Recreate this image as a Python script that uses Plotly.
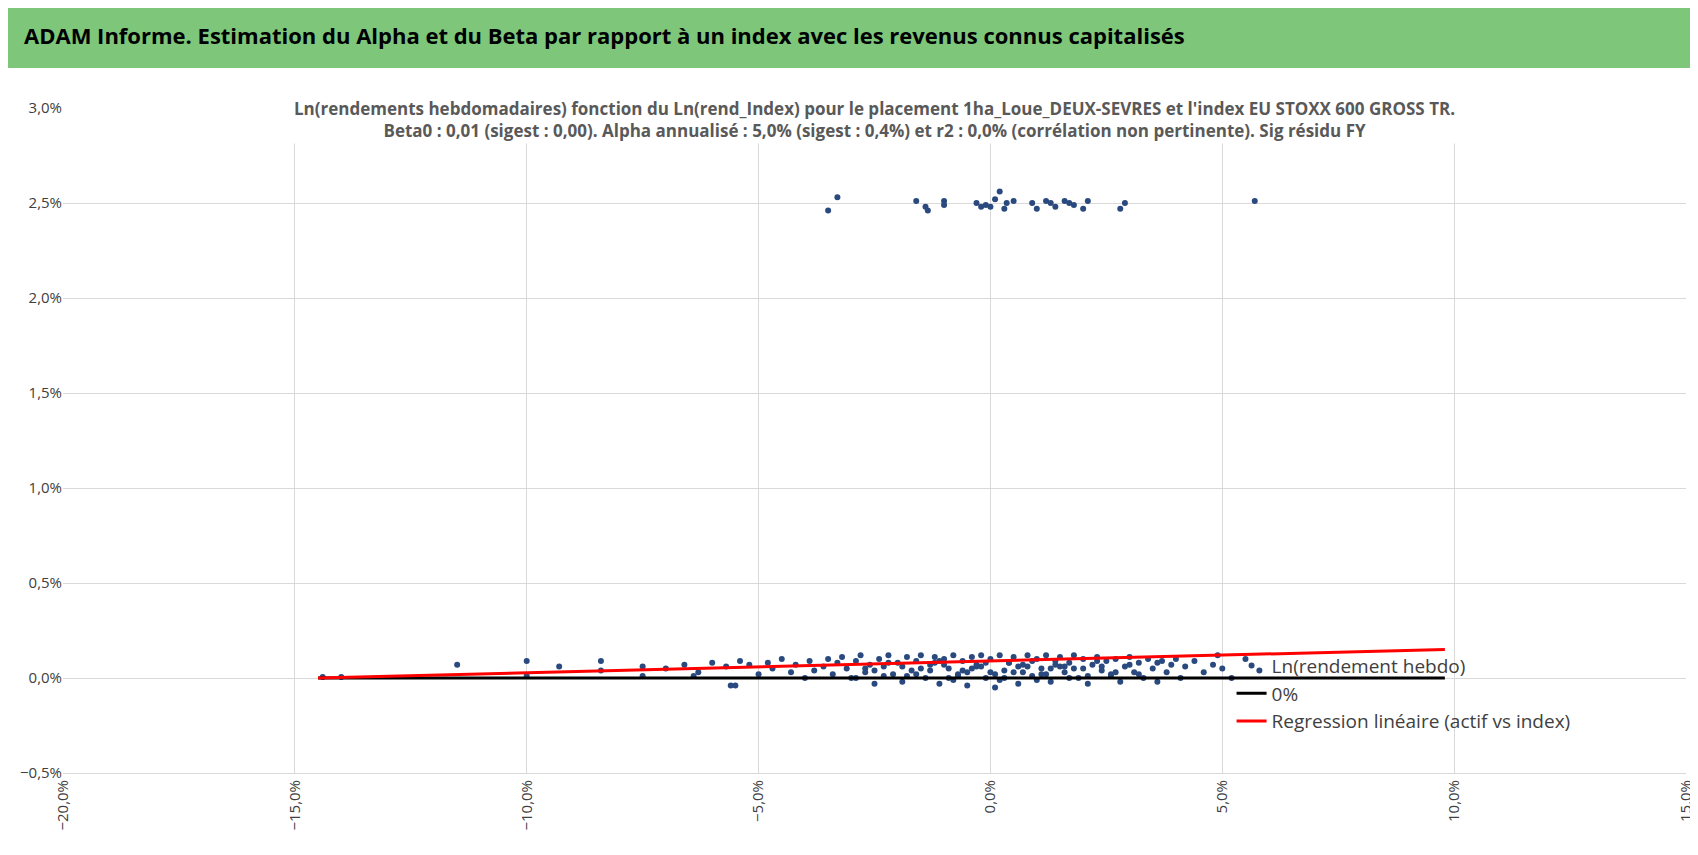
import plotly.graph_objects as go
import pandas as pd

# Weekly log returns (in %) : index vs asset
data = {
    'index': [-14.4, -14.0, -11.5, -10.0, -10.0, -9.3, -8.4, -8.4, -7.5, -7.5, -7.0, -6.6, -6.4, -6.3, -6.0,
              -5.7, -5.6, -5.5, -5.4, -5.2, -5.0, -4.8, -4.7, -4.5, -4.3, -4.2, -4.0, -3.9, -3.8, -3.6,
              -3.5, -3.4, -3.3, -3.2, -3.1, -3.0, -2.9, -2.8, -2.7, -2.6, -2.5, -2.4, -2.3, -2.2, -2.1,
              -2.0, -1.9, -1.8, -1.7, -1.6, -1.5, -1.4, -1.3, -1.2, -1.1, -1.0, -0.9, -0.8, -0.7, -0.6,
              -0.5, -0.4, -0.3, -0.2, -0.1, 0.0, 0.1, 0.2, 0.3, 0.4, 0.5, 0.6, 0.7, 0.8, 0.9,
              1.0, 1.1, 1.2, 1.3, 1.4, 1.5, 1.6, 1.7, 1.8, 1.9, 2.0, 2.1, 2.2, 2.3, 2.4,
              2.5, 2.6, 2.7, 2.8, 2.9, 3.0, 3.1, 3.2, 3.3, 3.4, 3.5, 3.6, 3.7, 3.8, 3.9,
              4.0, 4.1, 4.2, 4.4, 4.6, 4.8, 4.9, 5.0, 5.2, 5.5, 5.8,
              -2.9, -2.5, -2.2, -1.8, -1.5, -1.2, -0.9, -0.6, -0.3, 0.0, 0.3, 0.6, 0.9, 1.2, 1.5,
              1.8, 2.1, 2.4, 2.7, 3.0, -2.7, -2.3, -1.9, -1.6, -1.3, -1.0, -0.7, -0.4, -0.1, 0.2,
              0.5, 0.8, 1.1, 1.4, 1.7, 2.0, 2.3, 2.6, 3.2, 3.6, -1.1, -0.8, -0.5, -0.2, 0.1, 0.4,
              0.7, 1.0, 1.3, 1.6, -3.5, -3.3, -1.6, -1.4, -1.35, -1.0, -1.0, -0.3, -0.2, -0.1, 0.0,
              0.1, 0.2, 0.3, 0.35, 0.5, 0.9, 1.0, 1.2, 1.3, 1.4, 1.6, 1.7, 1.8, 2.0, 2.1, 2.8, 2.9, 5.7],
    'asset': [0.005, 0.005, 0.07, 0.09, 0.01, 0.06, 0.09, 0.04, 0.06, 0.01, 0.05, 0.07, 0.01, 0.03, 0.08,
              0.06, -0.04, -0.04, 0.09, 0.07, 0.02, 0.08, 0.05, 0.1, 0.03, 0.07, 0.0, 0.09, 0.04, 0.06,
              0.1, 0.02, 0.08, 0.11, 0.05, 0.0, 0.09, 0.12, 0.03, 0.07, -0.03, 0.1, 0.06, 0.12, 0.02,
              0.08, -0.02, 0.11, 0.04, 0.09, 0.12, 0.0, 0.07, 0.11, -0.03, 0.1, 0.05, 0.12, 0.02, 0.09,
              -0.04, 0.11, 0.06, 0.12, 0.0, 0.1, -0.05, 0.12, 0.04, 0.08, 0.11, -0.03, 0.07, 0.12, 0.01,
              0.1, 0.05, 0.12, -0.02, 0.09, 0.11, 0.03, 0.08, 0.12, 0.0, 0.1, -0.03, 0.07, 0.11, 0.04,
              0.09, 0.02, 0.1, -0.02, 0.06, 0.11, 0.03, 0.08, 0.0, 0.1, 0.05, -0.02, 0.09, 0.03, 0.07,
              0.1, 0.0, 0.06, 0.09, 0.03, 0.07, 0.12, 0.05, 0.0, 0.1, 0.04,
              0.0, 0.04, 0.08, 0.01, 0.05, 0.08, 0.0, 0.04, 0.07, 0.03, 0.0, 0.06, 0.09, 0.02, 0.06,
              0.05, 0.01, 0.06, 0.03, 0.07, 0.05, 0.01, 0.06, 0.02, 0.04, 0.07, 0.01, 0.05, 0.08, -0.01,
              0.03, 0.06, 0.02, 0.07, 0.0, 0.05, 0.09, 0.01, 0.02, 0.08, 0.09, -0.01, 0.03, 0.06, 0.02,
              0.08, 0.03, -0.01, 0.05, 0.06, 2.46, 2.53, 2.51, 2.48, 2.46, 2.51, 2.49, 2.50, 2.48, 2.49, 2.48,
              2.52, 2.56, 2.47, 2.50, 2.51, 2.50, 2.47, 2.51, 2.50, 2.48, 2.51, 2.50, 2.49, 2.47, 2.51, 2.47, 2.50, 2.51],
}
df = pd.DataFrame(data) / 100

# Regression and zero line
reg = {'x': [-0.145, 0.098], 'y': [0.0, 0.0015]}

fig = go.Figure()
fig.add_trace(go.Scatter(x=df['index'], y=df['asset'], mode='markers', name='Ln(rendement hebdo)',
                         marker=dict(color='#2a4a7f', size=6)))
fig.add_trace(go.Scatter(x=reg['x'], y=[0, 0], mode='lines', name='0%',
                         line=dict(color='black', width=3)))
fig.add_trace(go.Scatter(x=reg['x'], y=reg['y'], mode='lines', name='Regression linéaire (actif vs index)',
                         line=dict(color='red', width=3)))

font = "Liberation Sans Narrow, Open Sans, sans-serif"
fig.update_layout(
    width=1698, height=855, plot_bgcolor='white', paper_bgcolor='white',
    font=dict(family=font, size=15, color='#404040'),
    separators=', ',
    margin={"r": 20, "t": 100, "l": 55, "b": 90},
    legend=dict(x=0.72, y=0.19, xanchor='left', yanchor='top', bgcolor='rgba(255,255,255,0)',
                font=dict(size=19, color='#404040'), tracegroupgap=20),
    xaxis=dict(range=[-0.2, 0.15], dtick=0.05, tickformat='.1%', tickangle=-90,
               showgrid=True, gridcolor='#d9d9d9', zeroline=False, ticks='', linecolor='#d9d9d9'),
    yaxis=dict(range=[-0.005, 0.03], dtick=0.005, tickformat='.1%',
               showgrid=True, gridcolor='#d9d9d9', zeroline=False),
    shapes=[dict(type='rect', xref='paper', yref='paper', x0=-0.04, x1=1.02, y0=1.06, y1=1.16,
                 fillcolor='#7dc67a', line=dict(width=0), layer='below')],
    annotations=[
        dict(text='<b>ADAM Informe. Estimation du Alpha et du Beta par rapport à un index avec les revenus connus capitalisés</b>',
             xref='paper', yref='paper', x=-0.025, y=1.11, xanchor='left', yanchor='middle',
             showarrow=False, font=dict(size=22, color='black')),
        dict(text="<b>Ln(rendements hebdomadaires) fonction du Ln(rend_Index) pour le placement 1ha_Loue_DEUX-SEVRES et l'index EU STOXX 600 GROSS TR.<br>"
                  "Beta0 : 0,01 (sigest : 0,00). Alpha annualisé : 5,0% (sigest : 0,4%) et r2 : 0,0% (corrélation non pertinente). Sig résidu FY</b>",
             xref='paper', yref='paper', x=0.5, y=1.02, xanchor='center', yanchor='top',
             showarrow=False, bgcolor='white', font=dict(size=17, color='#595959')),
    ],
)

fig.write_html("out.html")
